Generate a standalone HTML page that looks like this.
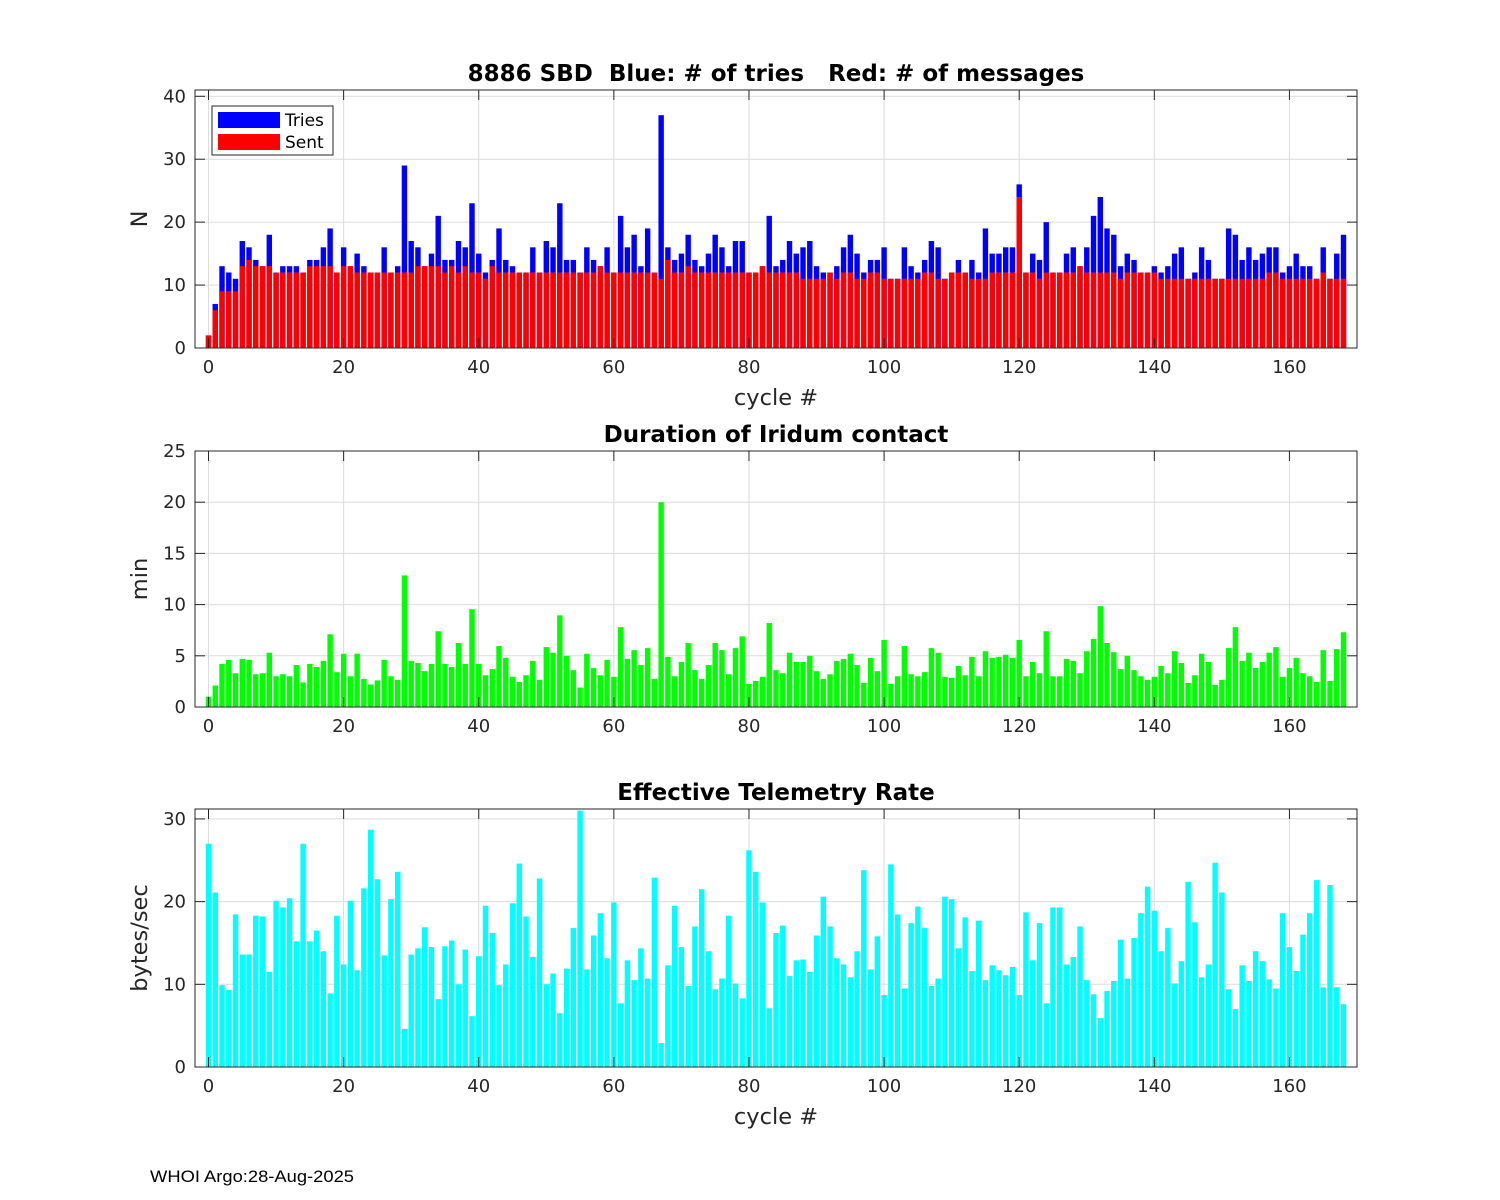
<!DOCTYPE html>
<html><head><meta charset="utf-8"><style>
html,body{margin:0;padding:0;background:#fff;}
svg{display:block;font-family:"DejaVu Sans","Liberation Sans",sans-serif;}
text{white-space:pre;}
</style></head><body>
<svg id="fig" width="1500" height="1200" viewBox="0 0 1500 1200" xmlns="http://www.w3.org/2000/svg">
<rect width="1500" height="1200" fill="#fff"/>
<text x="150" y="1182" font-size="16.5" textLength="204" lengthAdjust="spacingAndGlyphs" font-family="Liberation Sans, sans-serif" fill="#000">WHOI Argo:28-Aug-2025</text>
</svg>
<script>
const tries = [2,7,13,12,11,17,16,14,13,18,12,13,13,13,12,14,14,16,19,12,16,13,15,13,12,12,16,12,13,29,17,16,13,15,21,14,14,17,16,23,15,12,14,19,14,13,12,12,16,12,17,16,23,14,14,12,16,14,13,16,12,21,16,18,13,19,12,37,16,14,15,18,14,13,15,18,16,13,17,17,12,12,13,21,13,14,17,15,16,17,13,12,12,13,16,18,15,12,14,14,16,11,11,16,13,12,14,17,16,11,12,14,12,14,12,19,15,15,16,16,26,12,15,14,20,12,12,15,16,13,16,21,24,19,18,13,15,14,12,12,13,12,13,15,16,11,12,16,14,11,11,19,18,14,16,14,15,16,16,12,13,15,13,13,11,16,11,15,18];
const sent = [2,6,9,9,9,13,14,13,13,13,12,12,12,12,12,13,13,13,13,12,13,13,12,12,12,12,12,12,12,12,12,13,13,13,13,12,13,12,13,12,12,11,13,12,12,12,12,12,12,12,12,12,12,12,12,12,12,12,13,12,12,12,12,12,12,12,12,11,14,12,12,13,12,12,12,12,12,12,12,12,12,12,13,12,12,12,12,12,11,11,11,11,12,11,12,12,11,11,12,12,11,11,11,11,11,11,12,12,11,11,12,12,12,11,11,11,12,12,12,12,24,12,12,11,12,12,12,12,12,13,12,12,12,12,12,11,12,12,12,12,12,11,11,11,11,11,11,11,11,11,11,11,11,11,11,11,11,12,12,11,11,11,11,11,11,12,11,11,11];
const durationMin = [1.0,2.1,4.2,4.6,3.3,4.7,4.6,3.2,3.3,5.3,3.0,3.2,3.0,4.1,2.4,4.2,3.9,4.5,7.1,3.4,5.2,3.0,5.2,2.75,2.2,2.6,4.6,3.0,2.65,12.85,4.5,4.3,3.5,4.2,7.4,4.2,3.9,6.25,4.2,9.55,4.2,3.1,3.7,5.95,4.8,2.95,2.45,3.1,4.5,2.65,5.85,5.3,8.95,5.0,3.6,1.9,5.2,3.8,3.1,4.6,2.95,7.8,4.7,5.55,4.1,5.75,2.75,20.0,4.9,3.0,4.4,6.25,3.6,2.75,4.1,6.25,5.55,3.2,5.75,6.9,2.25,2.55,2.95,8.2,3.6,3.3,5.3,4.4,4.4,5.0,3.5,2.75,3.2,4.5,4.7,5.2,4.1,2.35,4.8,3.5,6.55,2.25,3.0,5.95,3.2,3.0,3.4,5.75,5.3,2.95,2.85,4.0,3.1,4.9,3.0,5.45,4.8,4.9,5.1,4.8,6.55,3.0,4.4,3.3,7.4,3.0,3.0,4.7,4.5,3.3,5.45,6.65,9.85,6.25,5.35,3.7,5.0,3.6,3.0,2.65,2.95,4.0,3.3,5.45,4.3,2.35,3.1,5.2,4.4,2.15,2.65,5.75,7.8,4.5,5.3,3.8,4.4,5.3,5.85,2.95,3.8,4.8,3.3,3.0,2.45,5.55,2.55,5.65,7.3];
const rateBps = [27.0,21.1,9.9,9.3,18.45,13.6,13.6,18.3,18.2,11.5,20.1,19.3,20.4,15.2,27.0,15.2,16.5,14.0,8.9,18.3,12.4,20.1,11.7,21.6,28.7,22.7,13.5,20.3,23.6,4.6,13.6,14.35,16.9,14.5,8.2,14.6,15.3,10.0,14.2,6.15,13.4,19.5,16.2,9.9,12.4,19.8,24.6,18.2,13.3,22.8,10.0,11.3,6.5,11.9,16.8,31.0,11.8,15.9,18.6,13.15,19.9,7.7,12.9,10.5,14.35,10.7,22.9,2.9,12.3,19.5,14.5,9.8,17.0,21.5,14.0,9.4,10.7,18.3,10.1,8.3,26.2,23.6,19.9,7.1,16.2,17.1,11.0,12.9,13.0,11.5,15.9,20.6,17.0,13.15,12.4,10.85,14.0,23.8,11.8,15.8,8.7,24.5,18.45,9.5,17.4,19.4,16.8,9.8,10.7,20.6,20.3,14.35,18.1,11.6,17.7,10.5,12.3,11.7,11.1,12.1,8.7,18.7,12.9,17.4,7.7,19.3,19.3,12.4,13.3,17.0,10.5,8.8,5.9,9.2,10.4,15.4,10.7,15.6,18.6,21.8,18.9,14.0,16.8,10.1,12.8,22.4,17.5,10.85,12.4,24.7,21.1,9.4,7.0,12.3,10.4,14.0,12.8,10.6,9.5,18.6,14.5,11.6,16.0,18.6,22.6,9.65,22.0,9.65,7.6];
const xTicks = [0,20,40,60,80,100,120,140,160];
const yTicks1 = [0,10,20,30,40];
const yTicks2 = [0,5,10,15,20,25];
const yTicks3 = [0,10,20,30];

const NS = "http://www.w3.org/2000/svg";
const svg = document.getElementById('fig');
function mk(tag, attrs, parent){ const e=document.createElementNS(NS,tag); for(const k in attrs) e.setAttribute(k,attrs[k]); (parent||svg).appendChild(e); return e; }
const L=195, R=1357, XMIN=-2, XMAX=170;
const xs = v => L + (v-XMIN)/(XMAX-XMIN)*(R-L);
const BW = 0.8*(R-L)/(XMAX-XMIN);

function panel(name, top, bot, ymax, yTicks, title, ylabel, xlabel){
  const g = mk('g',{});
  
  
  const ys = v => bot - v/ymax*(bot-top);
  mk('rect',{x:L,y:top,width:R-L,height:bot-top,fill:'#fff'},g);
  xTicks.forEach(t=>{ const l=mk('line',{x1:xs(t),x2:xs(t),y1:top,y2:bot,stroke:'#dcdcdc','stroke-width':1},g);
      });
  yTicks.forEach(t=>{ const l=mk('line',{x1:L,x2:R,y1:ys(t),y2:ys(t),stroke:'#dcdcdc','stroke-width':1},g);
      });
  const bars = mk('g',{},g);
  
  
  const ax = mk('g',{},g);
  
  
  mk('rect',{x:L,y:top,width:R-L,height:bot-top,fill:'none',stroke:'#262626','stroke-width':1},ax);
  xTicks.forEach(t=>{ const x=xs(t);
    mk('line',{x1:x,x2:x,y1:bot,y2:bot-10,stroke:'#262626'},ax);
    mk('line',{x1:x,x2:x,y1:top,y2:top+10,stroke:'#262626'},ax);
    const tx=mk('text',{x:x,y:bot+25,'font-size':18,'text-anchor':'middle',fill:'#262626'},ax); tx.textContent=t;
      });
  yTicks.forEach(t=>{ const y=ys(t);
    mk('line',{x1:L,x2:L+10,y1:y,y2:y,stroke:'#262626'},ax);
    mk('line',{x1:R,x2:R-10,y1:y,y2:y,stroke:'#262626'},ax);
    const tx=mk('text',{x:L-9,y:y+6,'font-size':18,'text-anchor':'end',fill:'#262626'},ax); tx.textContent=t;
      });
  const tt=mk('text',{x:(L+R)/2,y:top-9,'font-size':23,'font-weight':'bold','text-anchor':'middle',fill:'#000'},g);
  tt.textContent=title;  
  const yl=mk('text',{x:0,y:0,'font-size':22.5,'text-anchor':'middle',fill:'#262626',transform:`translate(147,${(top+bot)/2}) rotate(-90)`},g);
  yl.textContent=ylabel;  
  if(xlabel){ const xl=mk('text',{x:(L+R)/2,y:bot+57,'font-size':22.5,'text-anchor':'middle',fill:'#262626'},g);
    xl.textContent=xlabel;   }
  return {bars, ys, ax};
}

function drawBars(p, vals, color, name){
  vals.forEach((v,i)=>{
    const y=p.ys(v), b=p.ys(0);
    const r=mk('rect',{x:xs(i)-BW/2,y:y,width:BW,height:Math.max(0,b-y),fill:color},p.bars);
    
    
  });
}

const p1 = panel('sbd-panel',90,348,41,yTicks1,'8886 SBD  Blue: # of tries   Red: # of messages','N','cycle #');
drawBars(p1, tries, '#0000ff', 'tries-bar');
drawBars(p1, sent, '#ff0000', 'sent-bar');
const p2 = panel('duration-panel',451,707,25,yTicks2,'Duration of Iridum contact','min',null);
drawBars(p2, durationMin, '#00ff00', 'duration-bar');
const p3 = panel('rate-panel',809,1067,31.2,yTicks3,'Effective Telemetry Rate','bytes/sec','cycle #');
drawBars(p3, rateBps, '#00ffff', 'rate-bar');
[p1,p2,p3].forEach(p=>p.ax.parentNode.appendChild(p.ax));

const lg = mk('g',{});


mk('rect',{x:212,y:106,width:121,height:49,fill:'#fff',stroke:'#262626'},lg);
const e1=mk('g',{},lg);


mk('rect',{x:218,y:112,width:62,height:16,fill:'#0000ff'},e1);
const t1=mk('text',{x:285,y:126,'font-size':17,fill:'#000'},e1); t1.textContent='Tries';
const e2=mk('g',{},lg);


mk('rect',{x:218,y:134,width:62,height:16,fill:'#ff0000'},e2);
const t2=mk('text',{x:285,y:148,'font-size':17,fill:'#000'},e2); t2.textContent='Sent';
</script>
</body></html>
